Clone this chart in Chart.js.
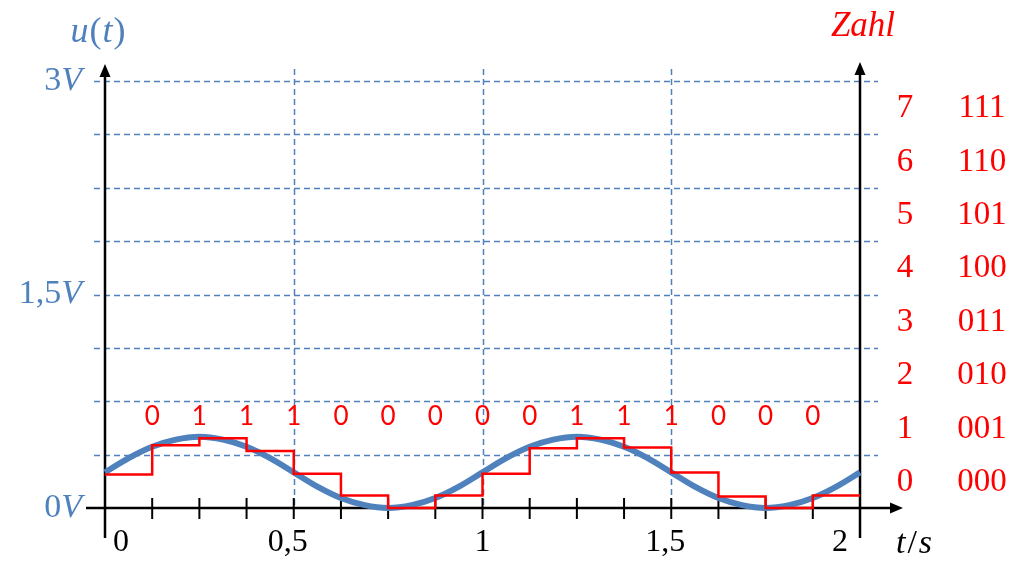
<!DOCTYPE html>
<html>
<head>
<meta charset="utf-8">
<script src="https://cdn.jsdelivr.net/npm/chart.js@4"></script>
<style>
  html, body { margin: 0; padding: 0; background: #fff; }
  #wrap { width: 1024px; height: 574px; position: relative; }
</style>
</head>
<body>
<div id="wrap"><canvas id="adcChart"></canvas></div>
<script>
"use strict";
// sample instants of the quantiser (left edge of every step) and the held value in volts
const stepTimes = [0, 0.125, 0.25, 0.375, 0.5, 0.625, 0.75, 0.875, 1, 1.125, 1.25, 1.375, 1.5, 1.625, 1.75, 1.875, 2];
const stepValues = [0.235, 0.44, 0.49, 0.40, 0.24, 0.088, 0.0, 0.088, 0.24, 0.42, 0.49, 0.425, 0.25, 0.08, 0.0, 0.088, 0.088];

// analog signal u(t)
const curveTimes = [0, 0.0625, 0.125, 0.1875, 0.25, 0.3125, 0.375, 0.4375, 0.5, 0.5625, 0.625, 0.6875, 0.75, 0.8125, 0.875, 0.9375,
                    1, 1.0625, 1.125, 1.1875, 1.25, 1.3125, 1.375, 1.4375, 1.5, 1.5625, 1.625, 1.6875, 1.75, 1.8125, 1.875, 1.9375, 2];
const curveValues = [0.25, 0.35, 0.43, 0.48, 0.50, 0.48, 0.43, 0.35, 0.25, 0.15, 0.07, 0.02, 0.00, 0.02, 0.07, 0.15,
                     0.25, 0.35, 0.43, 0.48, 0.50, 0.48, 0.43, 0.35, 0.25, 0.15, 0.07, 0.02, 0.00, 0.02, 0.07, 0.15, 0.25];

// bit stream written above the steps
const bits = ['0', '1', '1', '1', '0', '0', '0', '0', '0', '1', '1', '1', '0', '0', '0'];

// axes and labels
const xTickValues = [0, 0.5, 1, 1.5, 2];
const xTickTexts = ['0', '0,5', '1', '1,5', '2'];
const xGridValues = [0.5, 1, 1.5];
const yTickValues = [0, 1.5, 3];
const yTickTexts = ['0', '1,5', '3'];
const yGridValues = [0.375, 0.75, 1.125, 1.5, 1.875, 2.25, 2.625, 3];
const zahlCodes = ['0', '1', '2', '3', '4', '5', '6', '7'];
const zahlBinary = ['000', '001', '010', '011', '100', '101', '110', '111'];
const lsb = 0.375;

const BLUE = '#4f81bd';
const RED = '#ff0000';
const SERIF = '"Liberation Serif", "Times New Roman", serif';

function line(ctx, x1, y1, x2, y2) {
    ctx.beginPath();
    ctx.moveTo(x1, y1);
    ctx.lineTo(x2, y2);
    ctx.stroke();
}

function arrow(ctx, tipX, tipY, dir) {
    // dir: 'up' or 'right'
    ctx.beginPath();
    if (dir === 'up') {
        ctx.moveTo(tipX, tipY);
        ctx.lineTo(tipX - 5.5, tipY + 13);
        ctx.lineTo(tipX + 5.5, tipY + 13);
    } else {
        ctx.moveTo(tipX, tipY);
        ctx.lineTo(tipX - 13, tipY - 5.5);
        ctx.lineTo(tipX - 13, tipY + 5.5);
    }
    ctx.closePath();
    ctx.fill();
}

// text made of upright and italic pieces, e.g. "1,5" + italic "V"
function mixedText(ctx, parts, x, y, align, size, color) {
    ctx.fillStyle = color;
    ctx.textBaseline = 'middle';
    ctx.textAlign = 'left';
    let total = 0;
    parts.forEach(p => {
        ctx.font = (p.italic ? 'italic ' : '') + size + 'px ' + SERIF;
        p.w = ctx.measureText(p.text).width + (p.gap || 0);
        total += p.w;
    });
    let cx = align === 'right' ? x - total : (align === 'center' ? x - total / 2 : x);
    parts.forEach(p => {
        ctx.font = (p.italic ? 'italic ' : '') + size + 'px ' + SERIF;
        ctx.fillText(p.text, cx, y);
        cx += p.w;
    });
}

const axesPlugin = {
    id: 'axesPlugin',
    beforeDatasetsDraw(chart) {
        const { ctx, scales: { x, y } } = chart;
        const x0 = x.getPixelForValue(0), x2 = x.getPixelForValue(2);
        const yb = y.getPixelForValue(0), yt = y.getPixelForValue(3);
        ctx.save();
        //dashed grid
        ctx.strokeStyle = BLUE;
        ctx.lineWidth = 1.5;
        ctx.setLineDash([6, 4]);
        yGridValues.forEach(v => {
            const py = Math.round(y.getPixelForValue(v)) + 0.5;
            line(ctx, x0 - 11, py, x2 + 18, py);
        });
        xGridValues.forEach(v => {
            const px = Math.round(x.getPixelForValue(v)) + 0.5;
            line(ctx, px, yt - 12, px, yb);
        });
        ctx.setLineDash([]);

        //black axes with arrows
        ctx.strokeStyle = '#000';
        ctx.fillStyle = '#000';
        ctx.lineWidth = 2.5;
        line(ctx, x0, yb + 30, x0, yt - 5);
        arrow(ctx, x0, yt - 17, 'up');
        line(ctx, x2, yb + 30, x2, yt - 7);
        arrow(ctx, x2, yt - 19, 'up');
        line(ctx, x0 - 19, yb, x2 + 32, yb);
        arrow(ctx, x2 + 43, yb, 'right');

        //tick marks at every sample instant
        ctx.lineWidth = 2;
        stepTimes.slice(1, stepTimes.length - 1).forEach(t => {
            const px = x.getPixelForValue(t);
            line(ctx, px, yb - 10, px, yb + 11);
        });
        ctx.restore();
    },
    afterDraw(chart) {
        const { ctx, scales: { x, y } } = chart;
        const x0 = x.getPixelForValue(0), x2 = x.getPixelForValue(2);
        const yb = y.getPixelForValue(0);
        ctx.save();

        //left axis labels
        yTickValues.forEach((v, i) => {
            mixedText(ctx, [{ text: yTickTexts[i] }, { text: 'V', italic: true }],
                x0 - 23, y.getPixelForValue(v), 'right', 34, BLUE);
        });
        mixedText(ctx, [{ text: 'u', italic: true, gap: 1 }, { text: '(', gap: 1 }, { text: 't', italic: true, gap: 1 }, { text: ')' }],
            x0 - 7, 33, 'center', 36, BLUE);

        //right axis: code numbers and binary words
        ctx.fillStyle = RED;
        ctx.textBaseline = 'middle';
        ctx.textAlign = 'center';
        ctx.font = '33px ' + SERIF;
        zahlCodes.forEach((c, i) => {
            const py = y.getPixelForValue((i + 0.5) * lsb) + 1;
            ctx.fillText(c, x2 + 45, py);
            ctx.fillText(zahlBinary[i], x2 + 122, py);
        });
        ctx.font = 'italic 35px ' + SERIF;
        ctx.fillText('Zahl', x2 + 3, 27);

        //time axis labels
        ctx.fillStyle = '#000';
        ctx.font = '32px ' + SERIF;
        xTickValues.forEach((v, i) => {
            const px = x.getPixelForValue(v);
            if (i === 0) {
                ctx.textAlign = 'left';
                ctx.fillText(xTickTexts[i], px + 8, yb + 35);
            } else if (i === xTickValues.length - 1) {
                ctx.textAlign = 'right';
                ctx.fillText(xTickTexts[i], px - 12, yb + 35);
            } else {
                ctx.textAlign = 'center';
                ctx.fillText(xTickTexts[i], px - (xTickTexts[i].length > 1 ? 6 : 0), yb + 35);
            }
        });
        mixedText(ctx, [{ text: 't', italic: true, gap: 2 }, { text: '/', gap: 2 }, { text: 's', italic: true }],
            x2 + 54, yb + 36, 'center', 34, '#000');

        //bit stream
        ctx.fillStyle = RED;
        ctx.textAlign = 'center';
        ctx.textBaseline = 'middle';
        ctx.font = '26px Lato, "Open Sans", sans-serif';
        bits.forEach((b, i) => {
            ctx.fillText(b, x.getPixelForValue(stepTimes[i + 1]), y.getPixelForValue(0.64));
        });
        ctx.restore();
    }
};

const ctx = document.getElementById('adcChart').getContext('2d');
const adcChart = new Chart(ctx, {
    type: 'line',
    data: {
        datasets: [
            {
                label: 'u(t)',
                data: curveTimes.map((t, i) => ({ x: t, y: curveValues[i] })),
                borderColor: BLUE,
                borderWidth: 6,
                pointRadius: 0,
                cubicInterpolationMode: 'monotone',
                fill: false,
                clip: false,
                order: 2
            },
            {
                label: 'Zahl',
                data: stepTimes.map((t, i) => ({ x: t, y: stepValues[i] })),
                borderColor: RED,
                borderWidth: 2.5,
                pointRadius: 0,
                stepped: true,
                fill: false,
                clip: false,
                order: 1
            }
        ]
    },
    options: {
        responsive: true,
        maintainAspectRatio: false,
        animation: false,
        events: [],
        layout: {
            padding: { left: 105, right: 164, top: 81, bottom: 66 }
        },
        plugins: {
            legend: { display: false },
            tooltip: { enabled: false }
        },
        scales: {
            x: { type: 'linear', min: 0, max: 2, display: false },
            y: { type: 'linear', min: 0, max: 3, display: false }
        }
    },
    plugins: [axesPlugin]
});
</script>
</body>
</html>
